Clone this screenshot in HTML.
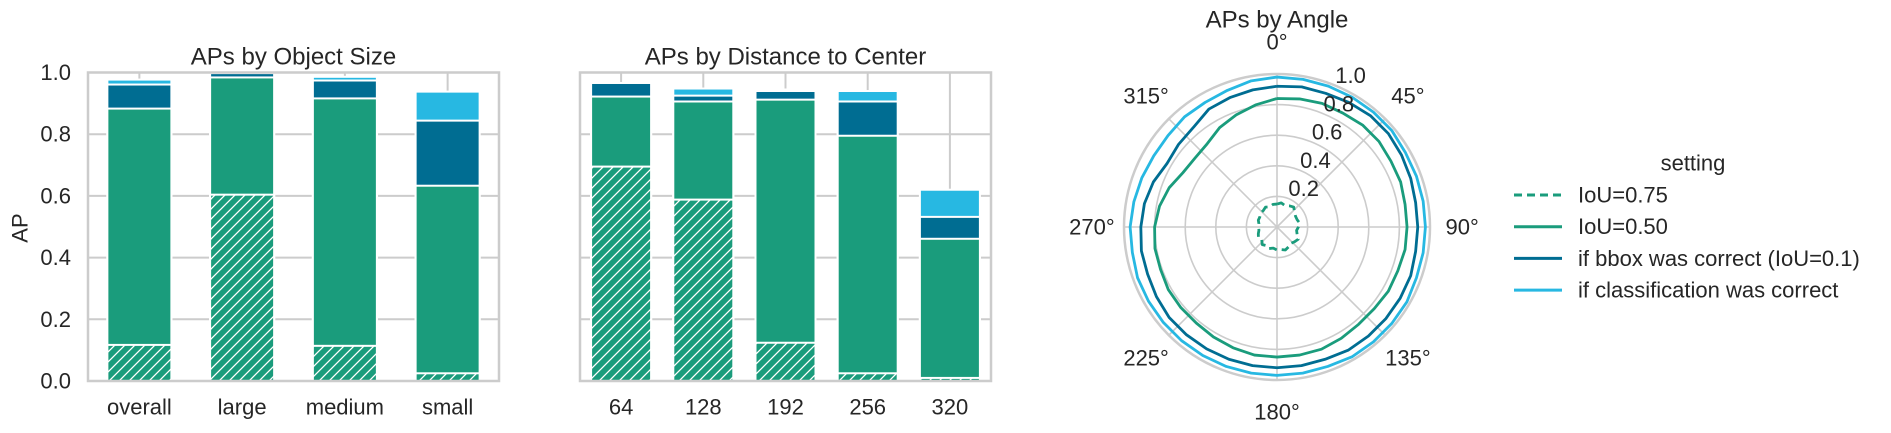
<!DOCTYPE html>
<html><head><meta charset="utf-8"><style>
body{margin:0;background:#fff;}
svg text{font-family:"Liberation Sans",Arial,sans-serif;fill:#262626;}
</style></head><body>
<svg id="chart" width="1891" height="428" xmlns="http://www.w3.org/2000/svg">
<defs>
<pattern id="hatch" patternUnits="userSpaceOnUse" width="10" height="10" patternTransform="rotate(0)">
<rect width="10" height="10" fill="#1a9c7c"/>
<path d="M-1,11 L11,-1 M-6,6 L6,-6 M4,16 L16,4" stroke="#fff" stroke-width="1.3"/>
</pattern>
</defs>
</svg>
<script>
const sizeCats=["overall","large","medium","small"];
const sizeHatch=[0.117,0.604,0.114,0.025];
const sizeIoU50=[0.883,0.984,0.916,0.633];
const sizeBbox=[0.961,0.998,0.974,0.844];
const sizeCls=[0.977,1.0,0.986,0.938];
const distCats=["64","128","192","256","320"];
const distHatch=[0.695,0.588,0.124,0.025,0.01];
const distIoU50=[0.922,0.906,0.912,0.795,0.461];
const distBbox=[0.966,0.925,0.94,0.906,0.532];
const distCls=[0.966,0.948,0.945,0.94,0.62];
const yTicks=[0,0.2,0.4,0.6,0.8,1.0];
const angleDeg=[0,10,20,30,40,50,60,70,80,90,100,110,120,130,140,150,160,170,180,190,200,210,220,230,240,250,260,270,280,290,300,310,320,330,340,350];
const polIoU75=[0.15,0.16,0.15,0.16,0.17,0.15,0.14,0.14,0.15,0.14,0.13,0.14,0.16,0.15,0.14,0.15,0.16,0.15,0.15,0.14,0.15,0.14,0.15,0.13,0.14,0.13,0.12,0.12,0.12,0.13,0.13,0.14,0.14,0.15,0.14,0.15];
const polIoU50=[0.84,0.85,0.86,0.86,0.87,0.87,0.86,0.86,0.85,0.85,0.85,0.84,0.84,0.83,0.83,0.84,0.85,0.85,0.85,0.85,0.84,0.83,0.82,0.82,0.82,0.81,0.81,0.80,0.78,0.75,0.71,0.70,0.71,0.75,0.78,0.81];
const polBbox=[0.92,0.93,0.93,0.94,0.95,0.95,0.94,0.93,0.92,0.92,0.92,0.93,0.93,0.93,0.93,0.93,0.92,0.92,0.92,0.92,0.92,0.92,0.92,0.92,0.91,0.90,0.90,0.89,0.88,0.86,0.83,0.84,0.85,0.89,0.90,0.91];
const polCls=[0.98,0.98,0.98,0.98,0.98,0.98,0.97,0.97,0.97,0.97,0.97,0.97,0.98,0.98,0.98,0.98,0.97,0.97,0.97,0.97,0.97,0.97,0.97,0.97,0.97,0.97,0.96,0.96,0.95,0.94,0.93,0.93,0.94,0.94,0.95,0.97];
const rTicks=[0.2,0.4,0.6,0.8,1.0];
const angleLabels=[0,45,90,135,180,225,270,315];

const G="#1a9c7c",DB="#006d92",LB="#27b8e2",GRID="#cccccc";
const svg=document.getElementById('chart');
const NS="http://www.w3.org/2000/svg";
function mk(tag,attrs,parent){const e=document.createElementNS(NS,tag);for(const k in attrs)e.setAttribute(k,attrs[k]);(parent||svg).appendChild(e);return e;}
function txt(s,x,y,size,anchor,parent){const t=mk('text',{x:x,y:y,'font-size':size,'text-anchor':anchor||'middle','dominant-baseline':'central'},parent);t.textContent=s;return t;}

const Y0=381,Y1=72.5;
function yS(v){return Y0-(Y0-Y1)*v;}

function barChart(name,x0,x1,cats,hatch,g,db,lb,title,showY,bw){
  const grp=mk('g',{});
  
  
  const n=cats.length,step=(x1-x0)/n;
  const xS=i=>x0+step*(i+0.5);
  yTicks.forEach(v=>{const l=mk('line',{x1:x0,x2:x1,y1:yS(v),y2:yS(v),stroke:GRID,'stroke-width':2},grp);
    
    if(showY){const t=txt(v.toFixed(1),71,yS(v),22,'end',grp);}});
  cats.forEach((c,i)=>{const l=mk('line',{x1:xS(i),x2:xS(i),y1:Y1,y2:Y0,stroke:GRID,'stroke-width':2},grp);
    
    const t=txt(c,xS(i),407,22,'middle',grp);});
  const series=[[lb,LB,'bar-classification'],[db,DB,'bar-bbox'],[g,G,'bar-iou50'],[hatch,'url(#hatch)','bar-iou75']];
  series.forEach(([arr,fill,nm])=>{arr.forEach((v,i)=>{
    const r=mk('rect',{x:xS(i)-bw/2,y:yS(v),width:bw,height:Y0-yS(v),fill:fill,stroke:'#fff','stroke-width':2},grp);
    });});
  const fr=mk('rect',{x:x0,y:Y1,width:x1-x0,height:Y0-Y1,fill:'none',stroke:GRID,'stroke-width':2.5},grp);
  
  const tt=txt(title,(x0+x1)/2,57,24,'middle',grp);
}
barChart('size-chart',88,499,sizeCats,sizeHatch,sizeIoU50,sizeBbox,sizeCls,'APs by Object Size',true,64);
barChart('distance-chart',580,991,distCats,distHatch,distIoU50,distBbox,distCls,'APs by Distance to Center',false,60);
const yl=txt('AP',20,228,22,'middle');yl.setAttribute('transform','rotate(-90 20 228)');



// polar
const CX=1277,CY=227,R=153;
const pg=mk('g',{});


function pt(a,r){const t=a*Math.PI/180;return [CX+R*r*Math.sin(t),CY-R*r*Math.cos(t)];}
rTicks.forEach(v=>{const c=mk('circle',{cx:CX,cy:CY,r:R*v,fill:'none',stroke:GRID,'stroke-width':v==1?2.5:1.6},pg);
  });
angleLabels.forEach(a=>{const p=pt(a,1);const l=mk('line',{x1:CX,y1:CY,x2:p[0],y2:p[1],stroke:GRID,'stroke-width':1.6},pg);
  
  const q=pt(a,1.21);const t=txt(a+'°',q[0],q[1],22,'middle',pg);});
function polLine(arr,color,dash,name){
  const pts=arr.map((v,i)=>pt(angleDeg[i],v));pts.push(pts[0]);
  const p=mk('polyline',{points:pts.map(p=>p.join(',')).join(' '),fill:'none',stroke:color,'stroke-width':2.8,'stroke-dasharray':dash||'none','stroke-linejoin':'round'},pg);
  }
polLine(polCls,LB,null,'line-classification');
polLine(polBbox,DB,null,'line-bbox');
polLine(polIoU50,G,null,'line-iou50');
polLine(polIoU75,G,'8,5','line-iou75');
rTicks.forEach(v=>{const p=pt(22.5,v);const t=txt(v.toFixed(1),p[0]+15,p[1]-10,22,'middle',pg);
  });
const pt_=txt('APs by Angle',CX,20,24,'middle',pg);

// legend
const lg=mk('g',{});


const lt=txt('setting',1693,163,22,'middle',lg);
const leg=[['IoU=0.75',G,'8,5'],['IoU=0.50',G,null],['if bbox was correct (IoU=0.1)',DB,null],['if classification was correct',LB,null]];
leg.forEach(([s,c,d],i)=>{const y=195+i*31.7;
  const e=mk('g',{},lg);
  mk('line',{x1:1514,x2:1562,y1:y,y2:y,stroke:c,'stroke-width':3,'stroke-dasharray':d||'none'},e);
  txt(s,1578,y,22,'start',e);});
</script>
</body></html>
